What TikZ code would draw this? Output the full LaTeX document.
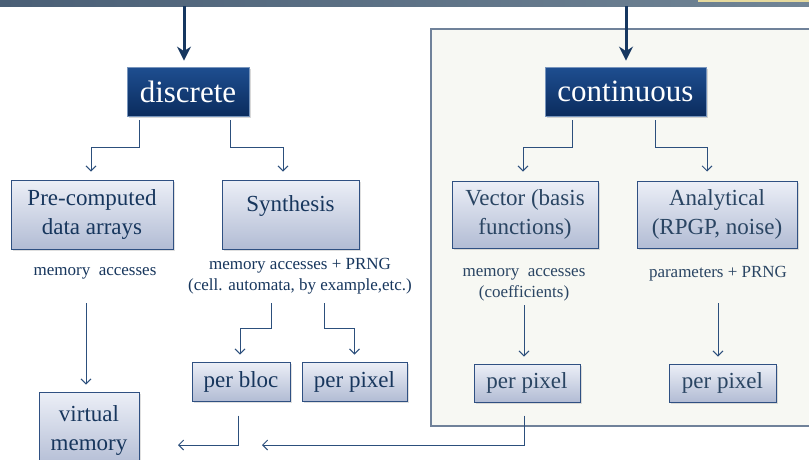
\documentclass[tikz,border=0pt]{standalone}
\usepackage{fontspec}
\setmainfont{Liberation Serif}
\usetikzlibrary{arrows.meta,shadows}
\definecolor{navytop}{HTML}{1E4E90}
\definecolor{navybot}{HTML}{0B2C5E}
\definecolor{boxtop}{HTML}{ECEFF7}
\definecolor{boxbot}{HTML}{B2BCD4}
\definecolor{boxline}{HTML}{2F5082}
\definecolor{txt}{HTML}{17365D}
\definecolor{txtc}{HTML}{2A4563}
\definecolor{conncol}{HTML}{2C4F7C}
\definecolor{panelfill}{HTML}{F7F8F3}
\definecolor{panelline}{HTML}{70829A}
\definecolor{bigarrow}{HTML}{163760}
\definecolor{barleft}{HTML}{4A5F76}
\definecolor{barright}{HTML}{718596}
\definecolor{khaki}{HTML}{E6DA9E}
\tikzset{
  navybox/.style={draw=navytop!60!white, line width=0.8pt, top color=navytop, bottom color=navybot,
    text=white, font=\fontsize{31}{34}\selectfont, inner sep=0pt,
    drop shadow={opacity=0.3, shadow xshift=1.5pt, shadow yshift=-1.5pt}},
  lightbox/.style={draw=boxline, line width=1pt, top color=boxtop, bottom color=boxbot,
    text=txt, font=\fontsize{23}{29}\selectfont, align=center, inner sep=0pt,
    drop shadow={opacity=0.25, shadow xshift=1.5pt, shadow yshift=-1.5pt}},
  lbl/.style={text=txt, font=\fontsize{17}{21}\selectfont, align=center, inner sep=0pt},
  conn/.style={draw=conncol, line width=0.9pt, -{Straight Barb[length=5pt,width=10pt]}},
  bigarr/.style={draw=bigarrow, line width=3pt, -{Stealth[length=14pt,width=14pt]}},
}
\begin{document}
\begin{tikzpicture}[x=1pt,y=-1pt]
\useasboundingbox (0,0) rectangle (809,459);
\fill[white] (0,0) rectangle (809,459);
% top bar
\shade[left color=barleft, right color=barright] (0,0) rectangle (809,6);
\fill[khaki] (698,0) rectangle (809,1.5);
% continuous panel
\draw[fill=panelfill, draw=panelline, line width=1.2pt] (431,29) rectangle (816,426);

% nodes
\node[navybox, minimum width=122, minimum height=49] (disc) at (188,91.5) {discrete};
\node[navybox, minimum width=161, minimum height=49] (cont) at (625.5,91.5) {continuous};

\node[lightbox, minimum width=162, minimum height=69] (pre) at (92,214.5) {Pre-computed\\data arrays};
\node[lightbox, minimum width=137, minimum height=69, text depth=22pt] (syn) at (290.5,214.5) {Synthesis};
\node[lightbox, text=txtc, minimum width=146, minimum height=67] (vec) at (525,214.5) {Vector (basis\\functions)};
\node[lightbox, text=txtc, minimum width=160, minimum height=67] (ana) at (717,214.5) {Analytical\\(RPGP, noise)};

\node[lbl] (l1) at (95,273) {memory\ \ accesses};
\node[lbl] (l2) at (300,276.5) {memory accesses + PRNG\\(cell. automata, by example,etc.)};
\node[lbl, text=txtc] (l3) at (524,285) {memory\ \ accesses\\(coefficients)};
\node[lbl, text=txtc] (l4) at (718,274) {parameters + PRNG};

\node[lightbox, minimum width=100, minimum height=76] (vm) at (89,430) {virtual\\memory};
\node[lightbox, minimum width=98, minimum height=39] (pb) at (241,381.5) {per bloc};
\node[lightbox, minimum width=105, minimum height=39] (pp1) at (354.5,381.5) {per pixel};
\node[lightbox, text=txtc, minimum width=106, minimum height=38] (pp2) at (527,383) {per pixel};
\node[lightbox, text=txtc, minimum width=107, minimum height=38] (pp3) at (722.5,383) {per pixel};

% coordinates for free ends
\coordinate (t1) at (184,6);
\coordinate (t2) at (626,6);
\coordinate (s1) at (86,303);
\coordinate (s2) at (271,303);
\coordinate (s3) at (324,303);
\coordinate (s4) at (524,305);
\coordinate (s5) at (718,303);
\coordinate (e1) at (178,445);
\coordinate (e2) at (262,445);

% big arrows
\draw[bigarr] (t1) -- ([xshift=-4pt,yshift=6pt]disc.north);
\draw[bigarr] (t2) -- ([xshift=0.5pt,yshift=6pt]cont.north);

% tree connectors
\draw[conn] ([xshift=13pt,yshift=-4pt]disc.south west) -- ++(0,27) -| ([xshift=-1pt,yshift=8pt]pre.north);
\draw[conn] ([xshift=-19pt,yshift=-4pt]disc.south east) -- ++(0,27) -| ([xshift=-7.5pt,yshift=8pt]syn.north);
\draw[conn] ([xshift=27.5pt,yshift=-4pt]cont.south west) -- ++(0,27) -| ([xshift=-2pt,yshift=9pt]vec.north);
\draw[conn] ([xshift=-51pt,yshift=-4pt]cont.south east) -- ++(0,27) -| ([xshift=-10pt,yshift=9pt]ana.north);

\draw[conn] (s1) -- ([xshift=-3pt,yshift=7pt]vm.north);
\draw[conn] (s2) -- ++(0,25) -| ([xshift=-1pt,yshift=7pt]pb.north);
\draw[conn] (s3) -- ++(0,25) -| ([yshift=7pt]pp1.north);
\draw[conn] (s4) -- ([xshift=-3pt,yshift=7pt]pp2.north);
\draw[conn] (s5) -- ([xshift=-4.5pt,yshift=7pt]pp3.north);

\draw[conn] ([xshift=-3pt,yshift=-14pt]pb.south) |- (e1);
\draw[conn] ([xshift=-3pt,yshift=-13pt]pp2.south) |- (e2);
\end{tikzpicture}
\end{document}
